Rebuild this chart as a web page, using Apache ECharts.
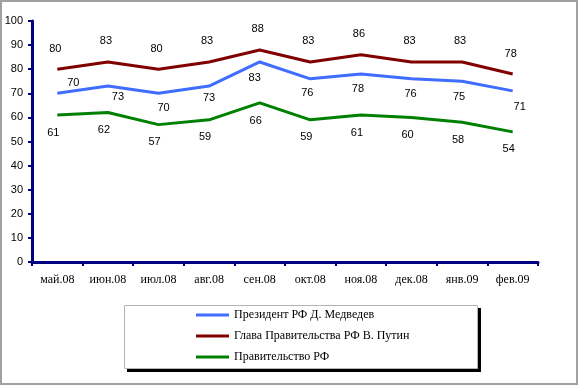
<!DOCTYPE html>
<html>
<head>
<meta charset="utf-8">
<script src="https://cdn.jsdelivr.net/npm/echarts@6/dist/echarts.min.js"></script>
<style>
html,body{margin:0;padding:0;background:#fff;}
#c{width:579px;height:385px;}
</style>
</head>
<body>
<div id="c"></div>
<script>
const categories = ['май.08','июн.08','июл.08','авг.08','сен.08','окт.08','ноя.08','дек.08','янв.09','фев.09'];
const medvedev = [70, 73, 70, 73, 83, 76, 78, 76, 75, 71];
const putin = [80, 83, 80, 83, 88, 83, 86, 83, 83, 78];
const government = [61, 62, 57, 59, 66, 59, 61, 60, 58, 54];
const seriesNames = ['Президент РФ Д. Медведев', 'Глава Правительства РФ В. Путин', 'Правительство РФ'];
const yTicks = {min: 0, max: 100, interval: 10};

// label placement tweaks (style only) for the blue series, [dx, dy] relative to point
const blueShift = [[16,-10],[10,11],[5,15],[0,12],[-5,16],[-3,15],[-3,15],[-1,16],[-3,16],[7,17]];

const chart = echarts.init(document.getElementById('c'), null, {renderer:'canvas'});
const labelFont = {fontFamily:'Liberation Sans, Arial, sans-serif', fontSize:11, color:'#000'};

function blueData(){
  return medvedev.map((v,i)=>({
    value:v,
    label:{position:'bottom', distance:10, offset:[blueShift[i][0], blueShift[i][1]-16]}
  }));
}

chart.setOption({
  animation:false,
  backgroundColor:'#fff',
  graphic:[
    {type:'rect', shape:{x:1,y:1,width:576,height:383}, style:{fill:'none', stroke:'#a0a0a0', lineWidth:2}, z:0},
    {type:'rect', shape:{x:127,y:308,width:354,height:64}, style:{fill:'#000'}, z:1},
    {type:'rect', shape:{x:124.5,y:305.5,width:353,height:63}, style:{fill:'#fff', stroke:'#b4b4b4', lineWidth:1}, z:2}
  ],
  grid:{left:32, right:41, top:21, bottom:123, containLabel:false},
  xAxis:{
    type:'category', data:categories, boundaryGap:true,
    axisLine:{lineStyle:{color:'#000080', width:3}},
    axisTick:{show:true, length:4, lineStyle:{color:'#000080', width:2}, alignWithLabel:false},
    axisLabel:{fontFamily:'Liberation Serif, Times New Roman, serif', fontSize:12, color:'#000', margin:12}
  },
  yAxis:{
    type:'value', min:yTicks.min, max:yTicks.max, interval:yTicks.interval,
    splitLine:{show:false},
    axisLine:{show:true, lineStyle:{color:'#000080', width:3}},
    axisTick:{show:true, length:4, lineStyle:{color:'#000080', width:2}},
    axisLabel:{fontFamily:'Liberation Sans, Arial, sans-serif', fontSize:11, color:'#000', margin:9}
  },
  legend:{
    orient:'vertical', left:191, top:303, itemWidth:33, itemHeight:3, itemGap:7,
    icon:'rect',
    data:seriesNames,
    textStyle:{fontFamily:'Liberation Serif, Times New Roman, serif', fontSize:12, color:'#000', lineHeight:14},
    z:5
  },
  series:[
    {name:seriesNames[0], type:'line', data:blueData(), showSymbol:true, symbol:'circle', symbolSize:0.1,
     lineStyle:{color:'#3f6dff', width:3}, itemStyle:{color:'#3f6dff'},
     label:{show:true, ...labelFont}},
    {name:seriesNames[1], type:'line', data:putin, showSymbol:true, symbol:'circle', symbolSize:0.1,
     lineStyle:{color:'#800000', width:3}, itemStyle:{color:'#800000'},
     label:{show:true, position:'top', distance:15, offset:[-2,0], ...labelFont}},
    {name:seriesNames[2], type:'line', data:government, showSymbol:true, symbol:'circle', symbolSize:0.1,
     lineStyle:{color:'#008000', width:3}, itemStyle:{color:'#008000'},
     label:{show:true, position:'bottom', distance:12, offset:[-4,0], ...labelFont}}
  ]
});
</script>
</body>
</html>
